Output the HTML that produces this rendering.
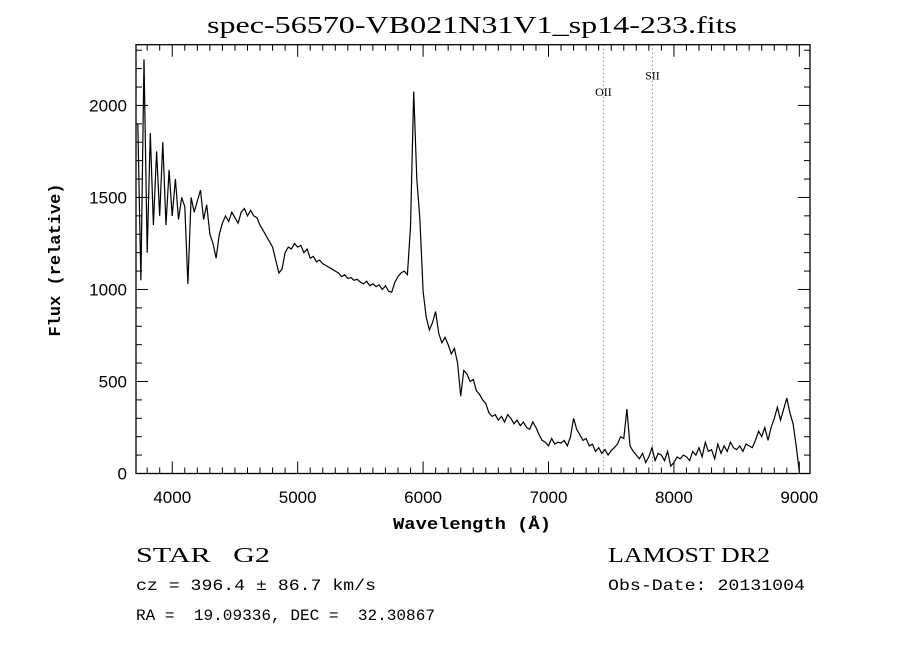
<!DOCTYPE html>
<html><head><meta charset="utf-8"><style>
body{margin:0;background:#fff;}
svg{display:block;}
text{fill:#000;}
</style></head><body>
<svg id="chart" width="900" height="650" viewBox="0 0 900 650">
<rect x="0" y="0" width="900" height="650" fill="#fff"/>
<text x="207" y="33" textLength="530" lengthAdjust="spacingAndGlyphs" font-family="Liberation Serif, serif" font-size="24">spec-56570-VB021N31V1_sp14-233.fits</text>
<g id="ticks"></g>
<g id="xlabels"></g>
<g id="ylabels"></g>
<g id="lines"></g>
<path id="spec" fill="none" stroke="#000" stroke-width="1.2"/>
<rect x="136" y="44.7" width="674" height="428.8" fill="none" stroke="#000" stroke-width="1.3"/>
<text x="393" y="529" textLength="158" lengthAdjust="spacingAndGlyphs" font-family="Liberation Mono, monospace" font-size="17" font-weight="bold">Wavelength (Å)</text>
<text transform="translate(60,260) rotate(-90)" font-family="Liberation Mono, monospace" font-size="17" font-weight="bold" text-anchor="middle">Flux (relative)</text>
<text x="136" y="562" textLength="134" lengthAdjust="spacingAndGlyphs" font-family="Liberation Serif, serif" font-size="21" xml:space="preserve">STAR   G2</text>
<text x="136" y="590" textLength="240" lengthAdjust="spacingAndGlyphs" font-family="Liberation Mono, monospace" font-size="16">cz = 396.4 ± 86.7 km/s</text>
<text x="136" y="620" textLength="299" lengthAdjust="spacingAndGlyphs" font-family="Liberation Mono, monospace" font-size="16" xml:space="preserve">RA =  19.09336, DEC =  32.30867</text>
<text x="608" y="562" textLength="162" lengthAdjust="spacingAndGlyphs" font-family="Liberation Serif, serif" font-size="21">LAMOST DR2</text>
<text x="608" y="590" textLength="197" lengthAdjust="spacingAndGlyphs" font-family="Liberation Mono, monospace" font-size="16">Obs-Date: 20131004</text>
</svg>
<script>
var waveStart = 3725;
var waveStep = 25;
var flux = [1900,1050,2250,1200,1850,1350,1750,1400,1800,1350,1650,1400,1600,1380,1500,1450,1030,1500,1420,1480,1540,1380,1460,1300,1250,1170,1300,1360,1400,1370,1420,1390,1360,1420,1440,1400,1430,1400,1390,1350,1320,1290,1260,1230,1160,1090,1110,1200,1230,1220,1250,1230,1240,1200,1220,1170,1180,1150,1160,1140,1130,1120,1110,1100,1090,1070,1080,1060,1065,1050,1055,1040,1030,1045,1020,1030,1015,1025,1000,1020,990,985,1040,1070,1090,1100,1080,1340,2075,1600,1380,990,850,780,820,880,760,710,740,700,650,680,600,420,560,540,500,510,450,430,400,380,330,310,320,290,310,280,320,300,270,290,260,280,250,240,280,250,210,180,170,150,190,160,170,165,180,150,200,300,240,210,180,190,150,160,120,140,110,130,100,125,140,160,200,190,350,150,120,100,80,110,60,90,140,70,110,100,70,120,40,60,90,80,100,90,70,120,100,140,90,170,120,130,80,160,110,150,120,170,140,130,150,120,160,150,140,180,230,200,250,180,250,300,360,290,350,410,330,270,150,10];
var xTicks = [4000,5000,6000,7000,8000,9000];
var yTicks = [0,500,1000,1500,2000];
var lineNames = ["OII","SII"];
var lineWaves = [7438,7829];
var lineLabelFlux = [2050,2140];

var X0=136,X1=810,Y0=473.5,Y1=44.7,WMIN=3711,WMAX=9085,FMIN=0,FMAX=2330;
function sx(w){return X0+(w-WMIN)/(WMAX-WMIN)*(X1-X0);}
function sy(f){return Y0-(f-FMIN)/(FMAX-FMIN)*(Y0-Y1);}
var NS="http://www.w3.org/2000/svg";
function mk(tag,attrs,parent){var e=document.createElementNS(NS,tag);for(var k in attrs)e.setAttribute(k,attrs[k]);parent.appendChild(e);return e;}

var d="";
for(var i=0;i<flux.length;i++){var w=waveStart+i*waveStep;d+=(i?"L":"M")+sx(w).toFixed(1)+","+sy(flux[i]).toFixed(1);}
document.getElementById("spec").setAttribute("d",d);

var tg=document.getElementById("ticks");
for(var w=3800;w<=9000;w+=100){
  var len=(w%1000===0)?12:6;var x=sx(w);
  var t1=mk("line",{x1:x,x2:x,y1:Y0,y2:Y0-len,stroke:"#000","stroke-width":1},tg);
  
  
  var t2=mk("line",{x1:x,x2:x,y1:Y1,y2:Y1+len,stroke:"#000","stroke-width":1},tg);
  
  
}
for(var f=0;f<=2300;f+=100){
  var len2=(f%500===0)?12:6;var y=sy(f);
  var t3=mk("line",{x1:X0,x2:X0+len2,y1:y,y2:y,stroke:"#000","stroke-width":1},tg);
  
  
  var t4=mk("line",{x1:X1,x2:X1-len2,y1:y,y2:y,stroke:"#000","stroke-width":1},tg);
  
  
}
var xl=document.getElementById("xlabels");
xTicks.forEach(function(v){
  var t=mk("text",{x:sx(v),y:503,"text-anchor":"middle","font-family":"Liberation Sans, sans-serif","font-size":"17","fill":"#222"},xl);
  t.textContent=v;
  
  
});
var yl=document.getElementById("ylabels");
yTicks.forEach(function(v){
  var t=mk("text",{x:127,y:sy(v)+6,"text-anchor":"end","font-family":"Liberation Sans, sans-serif","font-size":"17","fill":"#222"},yl);
  t.textContent=v;
  
  
});
var lg=document.getElementById("lines");
for(var j=0;j<lineNames.length;j++){
  var x=sx(lineWaves[j]);
  var l=mk("line",{x1:x,x2:x,y1:Y1,y2:Y0,stroke:"#a05050","stroke-width":1,"stroke-dasharray":"1,3"},lg);
  
  
  var t=mk("text",{x:x,y:sy(lineLabelFlux[j]),"text-anchor":"middle","font-family":"Liberation Serif, serif","font-size":"12"},lg);
  t.textContent=lineNames[j];
  
  
}
</script>
</body></html>
